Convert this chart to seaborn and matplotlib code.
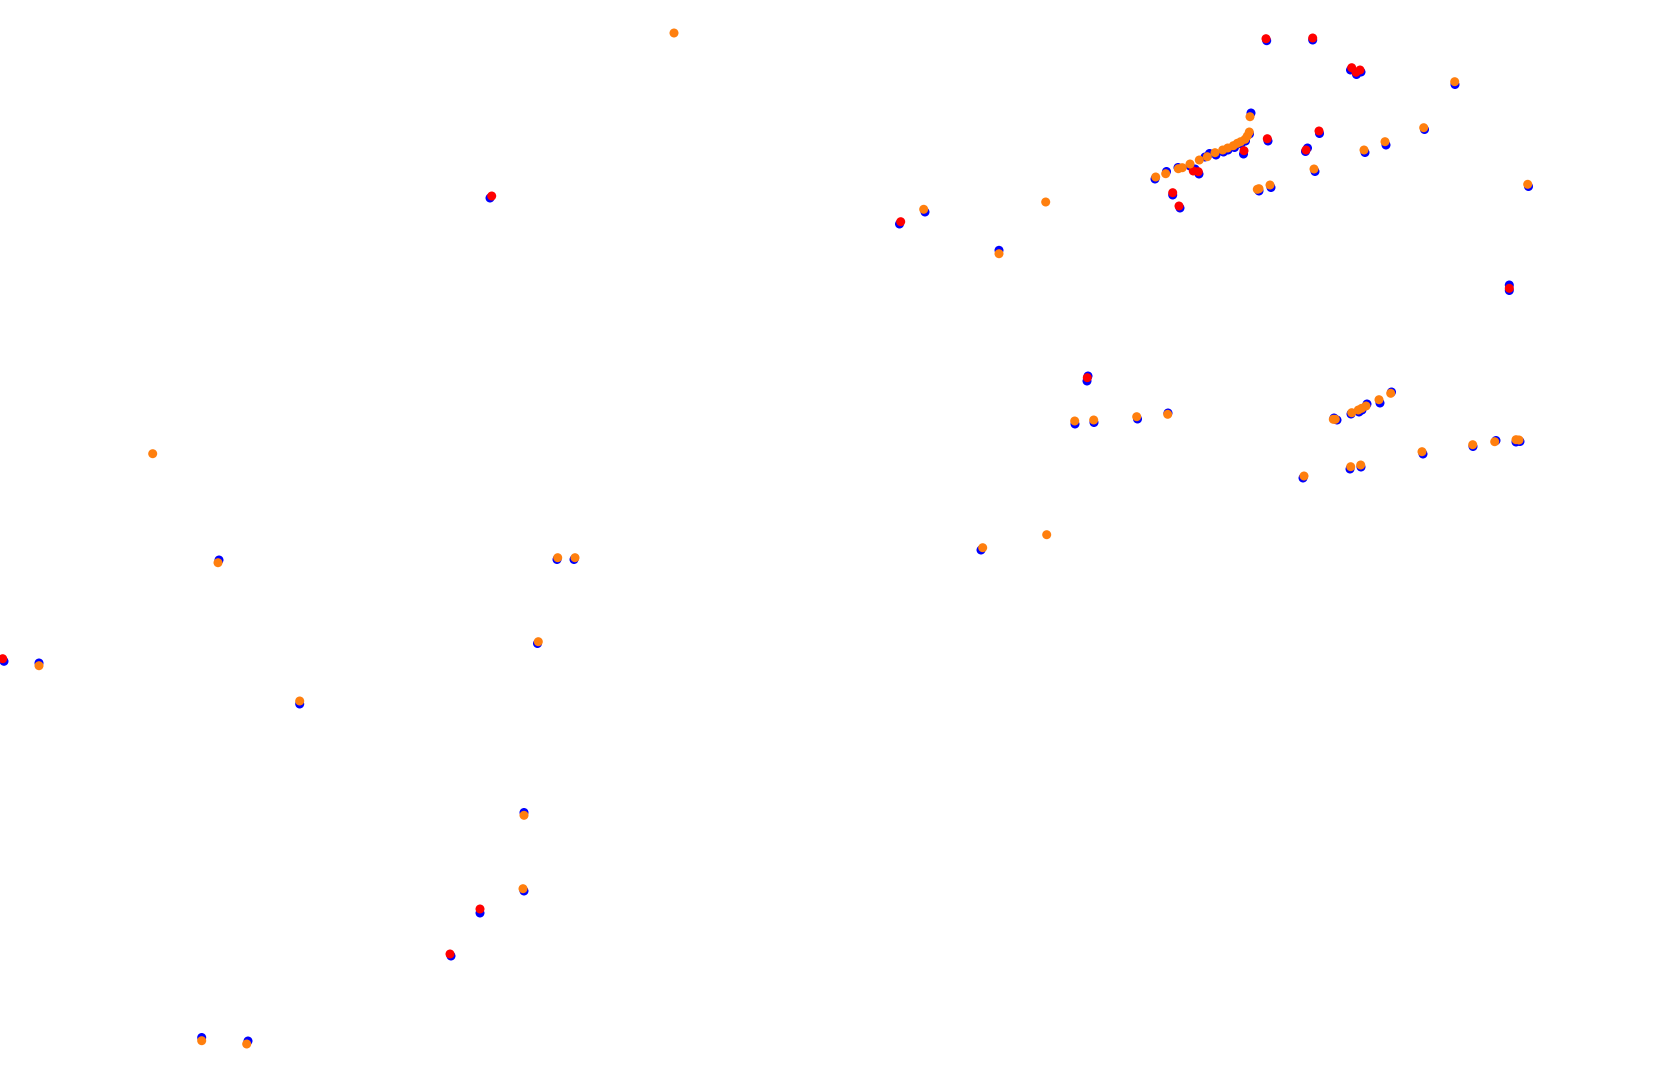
import numpy as np
import pandas as pd
import matplotlib
matplotlib.use("Agg")
import matplotlib.pyplot as plt
import seaborn as sns

# ---- data (x, y in plot units; y grows downward) ----
blue_x = [925, 999, 219, 39, 557, 574, 537.5, 299.7, 524, 524, 201.7, 248, 981,
          1075, 1094, 1137.5, 1168, 1334, 1337, 1351, 1359, 1362, 1367, 1380, 1391.5,
          1303, 1350, 1361, 1423, 1473, 1496, 1516, 1520,
          1455, 1424.5, 1386, 1365, 1315, 1528.5, 1259, 1271, 1251,
          1155, 1166.5, 1178, 1190, 1205, 1209.5, 1216, 1223.5, 1228, 1234.5, 1241, 1245.5, 1249.5,
          490, 899.5, 4, 480, 451, 1088, 1087, 1266.7, 1312.7, 1350.5, 1361, 1356.5,
          1268, 1319.5, 1307.5, 1305.5, 1195, 1199, 1243.5, 1172.7, 1180, 1509.3, 1509.3]
blue_y = [212, 250.3, 560, 663, 559.5, 559.5, 643.5, 704, 812.5, 891, 1037.5, 1041, 550,
          424, 422.5, 419, 413, 418, 420, 414, 412, 410, 404, 403, 392,
          478, 469, 467, 454, 446.5, 440.5, 442, 441.5,
          84.5, 129.5, 145, 152.5, 171.5, 186.5, 191, 187.5, 113,
          179, 171.5, 167.5, 166, 157, 153.5, 155, 152, 150, 147.5, 144, 141, 134,
          198, 224, 661.3, 913, 956, 376, 381, 40.7, 40, 70, 72, 74.5,
          141, 133.5, 148, 151.5, 169, 174, 154, 195, 208, 285, 290.5]

red_x = [491.7, 900.7, 2.7, 480, 450, 1087.3, 1266, 1312.7, 1351.7, 1360, 1356,
         1267.3, 1319, 1306, 1193.3, 1198.3, 1244, 1172.7, 1179, 1509.3]
red_y = [196, 221.7, 658.7, 909, 954, 377.7, 38.7, 38, 67.7, 70, 72.3,
         138.7, 131, 150, 171, 171.7, 150.7, 192.7, 206, 288.3]

orange_x = [674, 152.7, 1045.7, 1046.7, 923.7, 999, 218, 39, 557.7, 575, 538.3, 299.7,
            524, 523, 201.7, 246.7, 982.7, 1074.7, 1093.7, 1136.7, 1167.7,
            1333.3, 1335.3, 1351.7, 1358.3, 1361.7, 1366, 1379, 1390.7,
            1304, 1350.7, 1360.7, 1422, 1472.7, 1494.7, 1516, 1519,
            1454.7, 1423.7, 1385, 1364, 1314, 1527.7, 1257.3, 1259, 1270, 1250,
            1155.7, 1165.7, 1178.3, 1182.3, 1190, 1199.3, 1207.3, 1215, 1222.7, 1227.7,
            1233.3, 1237.3, 1240.7, 1245, 1247.3, 1249.3]
orange_y = [33, 453.7, 202, 534.7, 209.3, 253.7, 562.7, 665.7, 557.7, 557.7, 641.7, 701,
            815.3, 888.7, 1040.7, 1044, 547.7, 421, 420, 416.7, 414.3,
            419.3, 419.3, 412.7, 410, 408.3, 406, 399.7, 393.3,
            476, 466.7, 465, 451.7, 444.7, 441.7, 439.7, 440,
            81.7, 127.7, 141.7, 150, 169, 184.3, 189.3, 188.7, 185, 116.7,
            177, 173.7, 168.7, 167.7, 164, 160, 156.7, 152.7, 150, 148,
            145.7, 143.3, 141.7, 139.3, 136, 132]

series_names = ["blue", "red", "orange"]
series_colors = ["#0000ff", "#ff0000", "#ff7f0e"]

df = pd.concat([
    pd.DataFrame({"x": blue_x, "y": blue_y, "series": "blue"}),
    pd.DataFrame({"x": red_x, "y": red_y, "series": "red"}),
    pd.DataFrame({"x": orange_x, "y": orange_y, "series": "orange"}),
], ignore_index=True)

sns.set_style("white")
fig = plt.figure(figsize=(16.8, 10.79), dpi=100)
ax = fig.add_axes([0, 0, 1, 1])
sns.scatterplot(data=df, x="x", y="y", hue="series", hue_order=series_names,
                palette=dict(zip(series_names, series_colors)),
                s=42, linewidth=0, legend=False, ax=ax)
ax.set_xlim(0, 1680)
ax.set_ylim(1079, 0)
ax.set_axis_off()
fig.savefig("out.png", dpi=100, facecolor="white")
